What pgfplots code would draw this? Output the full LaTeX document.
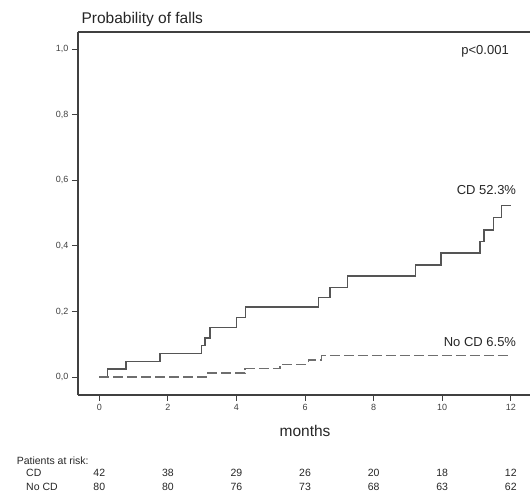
\documentclass[border=0pt]{standalone}
\usepackage{pgfplots}
\pgfplotsset{compat=1.18}
\usepackage{fontspec}
\setmainfont{Liberation Sans}
\definecolor{ln}{HTML}{555555}
\definecolor{ax}{HTML}{404040}
\begin{document}
\begin{tikzpicture}[x=1pt,y=1pt]
\useasboundingbox (-78,-99) rectangle (452,395);
\begin{axis}[
  at={(0,0)}, anchor=south west,
  scale only axis, width=452pt, height=363pt,
  xmin=-0.62, xmax=12.56, ymin=-0.055, ymax=1.053,
  axis x line=box, axis y line=left,
  axis line style={ax, line width=1.4pt, -},
  xtick={0,2,4,6,8,10,12},
  ytick={0,0.2,0.4,0.6,0.8,1.0},
  yticklabels={{0,0},{0,2},{0,4},{0,6},{0,8},{1,0}},
  tick align=outside, major tick length=6pt,
  tick style={ax, line width=0.9pt},
  xtick pos=bottom, ytick pos=left,
  ticklabel style={font=\fontsize{9}{10}\selectfont, text=ax},
  /pgf/number format/assume math mode=true,
  xlabel={months},
  xlabel style={font=\fontsize{15.5}{17}\selectfont, text=black!85, at={(axis cs:6,-0.183)}, anchor=base},
  clip=false,
]
\addplot[const plot, ln, line width=1.4pt] coordinates {
(0,0) (0.245,0.0238) (0.78,0.0476) (1.77,0.0714) (2.98,0.0952) (3.08,0.119)
(3.23,0.1505) (4.0,0.1818) (4.27,0.2131) (6.39,0.2432) (6.73,0.2733) (7.23,0.308)
(9.22,0.342) (9.96,0.378) (11.1,0.413) (11.22,0.449) (11.5,0.486) (11.73,0.523) (12,0.523)};
\addplot[const plot, ln!85, line width=1.4pt, dash pattern=on 10pt off 4pt] coordinates {
(0,0) (3.13,0.0125) (4.25,0.0256) (5.27,0.039) (6.1,0.052) (6.48,0.065) (12,0.065)};
\tikzset{ann/.style={anchor=base, font=\fontsize{13}{15}\selectfont, text=black!85}}
\node[ann] at (axis cs:11.25,0.985) {p<0.001};
\node[ann] at (axis cs:11.29,0.556) {CD 52.3\%};
\node[ann] at (axis cs:11.1,0.0925) {No CD 6.5\%};
\node[anchor=base west, font=\fontsize{15.5}{17}\selectfont, text=black!85] at (rel axis cs:0,1) [yshift=8.7pt] {Probability of falls};
\tikzset{risk/.style={anchor=base, font=\fontsize{10.5}{12}\selectfont, text=black!85}}
\node[risk, anchor=base west] at (axis cs:-2.507,-0.266) {Patients at risk:};
\node[risk, anchor=base west] at (axis cs:-2.233,-0.304) {CD};
\node[risk, anchor=base west] at (axis cs:-2.233,-0.347) {No CD};
\node[risk] at (axis cs:0,-0.304) {42};
\node[risk] at (axis cs:2,-0.304) {38};
\node[risk] at (axis cs:4,-0.304) {29};
\node[risk] at (axis cs:6,-0.304) {26};
\node[risk] at (axis cs:8,-0.304) {20};
\node[risk] at (axis cs:10,-0.304) {18};
\node[risk] at (axis cs:12,-0.304) {12};
\node[risk] at (axis cs:0,-0.347) {80};
\node[risk] at (axis cs:2,-0.347) {80};
\node[risk] at (axis cs:4,-0.347) {76};
\node[risk] at (axis cs:6,-0.347) {73};
\node[risk] at (axis cs:8,-0.347) {68};
\node[risk] at (axis cs:10,-0.347) {63};
\node[risk] at (axis cs:12,-0.347) {62};
\end{axis}
\end{tikzpicture}
\end{document}
